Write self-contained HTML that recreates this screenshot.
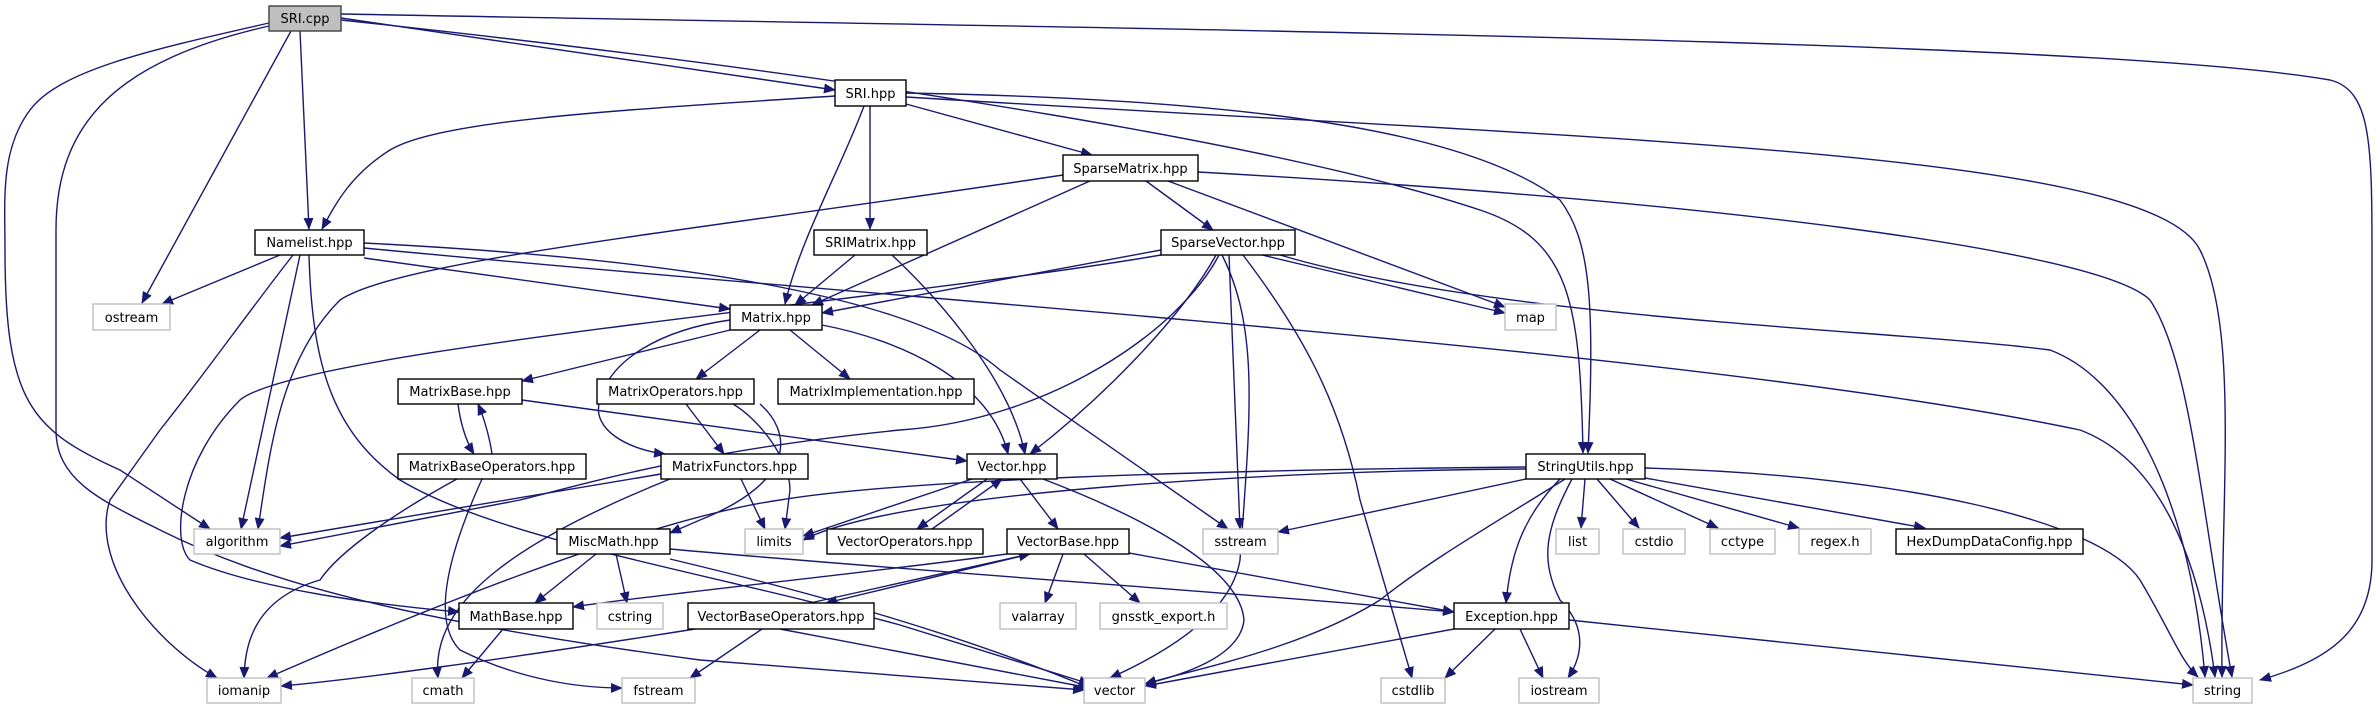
<!DOCTYPE html>
<html><head><meta charset="utf-8"><style>
html,body{margin:0;padding:0;background:#fff;}
svg{display:block;}
text{font-family:"DejaVu Sans","Liberation Sans",sans-serif;font-size:13px;fill:#000;text-anchor:middle;}
.e{fill:none;stroke:#191970;stroke-width:1.4;marker-end:url(#a);}
.n{fill:#fff;stroke:#000;stroke-width:1.4;}
.g{fill:#fff;stroke:#bfbfbf;stroke-width:1.4;}
</style></head><body>
<svg width="2376" height="709" viewBox="0 0 2376 709" xmlns="http://www.w3.org/2000/svg">
<defs><marker id="a" markerWidth="12" markerHeight="10" refX="11" refY="5" orient="auto" markerUnits="userSpaceOnUse"><path d="M0,0 L12,5 L0,10 z" fill="#191970"/></marker></defs>
<g>
<!-- SRI.cpp -->
<path class="e" d="M341,18 L835,90"/>
<path class="e" d="M300,31 L309,229"/>
<path class="e" d="M291,31 L142,303"/>
<path class="e" d="M269,23 C150,50 60,70 30,110 C0,150 5,200 5,250 C5,400 30,430 120,470 L210,529"/>
<path class="e" d="M269,26 C120,60 56,120 56,230 L56,430 C56,480 100,500 160,530 C260,580 400,620 700,660 L1084,690"/>
<path class="e" d="M341,14 C1200,30 2100,40 2330,80 C2370,90 2372,140 2372,250 L2372,560 C2372,630 2330,660 2260,680"/>
<path class="e" d="M341,20 C900,80 1300,150 1480,210 C1570,240 1580,300 1583,453"/>
<!-- SRI.hpp -->
<path class="e" d="M835,96 C620,110 440,120 390,150 C350,175 335,205 322,229"/>
<path class="e" d="M864,106 C840,170 800,240 785,304"/>
<path class="e" d="M870,106 L870,229"/>
<path class="e" d="M906,104 L1092,155"/>
<path class="e" d="M906,93 C1300,100 1480,140 1560,200 C1590,240 1595,300 1588,453"/>
<path class="e" d="M906,97 C1600,140 2150,150 2200,250 C2240,330 2220,500 2222,677"/>
<!-- Namelist.hpp -->
<path class="e" d="M280,255 L162,304"/>
<path class="e" d="M300,255 L241,529"/>
<path class="e" d="M293,255 C250,310 200,380 160,430 L110,500 C90,560 150,640 217,678"/>
<path class="e" d="M309,255 C312,360 330,430 400,480 C500,540 700,570 900,625 L1090,684"/>
<path class="e" d="M364,258 L730,309"/>
<path class="e" d="M364,243 C700,260 920,300 1000,370 L1228,529"/>
<path class="e" d="M364,248 C900,300 1700,350 2080,430 C2160,460 2200,560 2215,677"/>
<!-- Matrix.hpp -->
<path class="e" d="M730,330 L522,381"/>
<path class="e" d="M760,330 L696,379"/>
<path class="e" d="M790,330 L850,379"/>
<path class="e" d="M730,320 C660,330 610,360 600,400 C590,430 630,450 665,454"/>
<path class="e" d="M822,325 C900,340 990,380 1008,454"/>
<!-- SparseMatrix -->
<path class="e" d="M1090,181 L812,305"/>
<path class="e" d="M1063,175 C700,230 400,260 340,300 C280,360 270,450 258,529"/>
<path class="e" d="M1168,181 L1505,307"/>
<path class="e" d="M1146,181 L1213,230"/>
<path class="e" d="M1198,172 C1700,200 2100,250 2150,300 C2190,360 2200,500 2232,677"/>
<!-- SRIMatrix -->
<path class="e" d="M855,255 L795,305"/>
<path class="e" d="M892,255 C940,300 1010,380 1025,454"/>
<!-- SparseVector -->
<path class="e" d="M1161,250 L822,313"/>
<path class="e" d="M1161,255 C900,300 300,350 240,400 C180,460 170,540 190,560 C260,590 380,605 459,612"/>
<path class="e" d="M1216,255 C1180,320 1100,400 1030,454"/>
<path class="e" d="M1219,255 C1180,330 1050,420 900,430 C700,450 600,480 520,500 L280,546"/>
<path class="e" d="M1229,255 L1240,529"/>
<path class="e" d="M1222,255 C1260,330 1250,420 1240,560 C1230,620 1150,660 1110,678"/>
<path class="e" d="M1243,255 C1300,330 1340,400 1360,500 L1412,678"/>
<path class="e" d="M1262,255 L1505,313"/>
<path class="e" d="M1280,255 C1500,320 1900,330 2050,350 C2130,380 2190,500 2205,677"/>
<!-- MatrixBase / MatrixBaseOperators -->
<path class="e" d="M458,404 C460,420 465,440 474,454"/>
<path class="e" d="M492,454 C490,440 485,420 478,404"/>
<path class="e" d="M522,400 L967,461"/>
<path class="e" d="M457,479 C400,510 340,550 320,580 C250,600 245,650 244,678"/>
<path class="e" d="M482,479 C450,550 430,620 460,650 C520,680 580,688 622,688"/>
<!-- MatrixOperators -->
<path class="e" d="M686,404 L724,454"/>
<path class="e" d="M733,404 C760,420 790,460 790,490 L785,529"/>
<path class="e" d="M760,404 C790,430 800,480 700,520 L670,533"/>
<!-- MatrixFunctors -->
<path class="e" d="M661,474 L280,538"/>
<path class="e" d="M741,479 L765,529"/>
<path class="e" d="M670,479 C520,540 430,600 438,678"/>
<!-- MiscMath -->
<path class="e" d="M596,554 L535,603"/>
<path class="e" d="M616,554 L627,603"/>
<path class="e" d="M670,559 C800,590 950,630 1090,688"/>
<path class="e" d="M670,549 C900,570 1200,590 1454,612"/>
<!-- Vector -->
<path class="e" d="M972,479 L803,536"/>
<path class="e" d="M987,479 L917,529"/>
<path class="e" d="M932,529 L1002,479"/>
<path class="e" d="M1020,479 L1058,529"/>
<path class="e" d="M1043,479 C1150,520 1240,570 1244,620 C1240,660 1170,678 1145,684"/>
<!-- VectorBase -->
<path class="e" d="M1063,554 L1045,603"/>
<path class="e" d="M1084,554 L1140,603"/>
<path class="e" d="M1129,553 L1454,612"/>
<path class="e" d="M1007,554 C850,575 650,595 573,607"/>
<path class="e" d="M1030,554 L826,603"/>
<path class="e" d="M810,603 L1030,554"/>
<!-- VectorBaseOperators -->
<path class="e" d="M695,629 C500,660 350,680 281,686"/>
<path class="e" d="M762,629 L690,678"/>
<path class="e" d="M780,629 L1090,688"/>
<!-- MathBase -->
<path class="e" d="M503,629 L462,678"/>
<!-- Exception -->
<path class="e" d="M1454,629 L1145,686"/>
<path class="e" d="M1495,629 L1445,678"/>
<path class="e" d="M1520,629 L1543,678"/>
<path class="e" d="M1569,620 L2193,685"/>
<!-- StringUtils -->
<path class="e" d="M1526,469 C1300,470 900,490 803,540"/>
<path class="e" d="M1526,467 C1200,470 900,480 780,500 C640,520 400,620 267,678"/>
<path class="e" d="M1526,479 L1278,532"/>
<path class="e" d="M1565,479 C1500,520 1430,560 1380,600 C1300,650 1190,670 1145,684"/>
<path class="e" d="M1560,479 C1520,520 1510,560 1506,603"/>
<path class="e" d="M1572,479 C1545,530 1540,560 1560,600 C1590,630 1580,660 1568,678"/>
<path class="e" d="M1585,479 L1581,528"/>
<path class="e" d="M1597,479 L1639,528"/>
<path class="e" d="M1610,479 L1718,528"/>
<path class="e" d="M1626,479 L1799,528"/>
<path class="e" d="M1645,478 L1925,528"/>
<path class="e" d="M1645,468 C1900,475 2100,520 2140,580 C2170,630 2180,660 2198,677"/>
</g>
<g>
<rect x="269" y="6" width="72" height="25" fill="#bfbfbf" stroke="#404040" stroke-width="1.4"/><text x="305" y="23">SRI.cpp</text>
<rect class="n" x="835" y="80" width="71" height="26"/><text x="870.5" y="98">SRI.hpp</text>
<rect class="n" x="255" y="230" width="109" height="25"/><text x="309.5" y="247">Namelist.hpp</text>
<rect class="n" x="1063" y="155" width="135" height="26"/><text x="1130.5" y="173">SparseMatrix.hpp</text>
<rect class="n" x="814" y="230" width="113" height="25"/><text x="870.5" y="247">SRIMatrix.hpp</text>
<rect class="n" x="1161" y="230" width="134" height="25"/><text x="1228" y="247">SparseVector.hpp</text>
<rect class="g" x="93" y="304" width="77" height="26"/><text x="131.5" y="322">ostream</text>
<rect class="n" x="730" y="305" width="92" height="25"/><text x="776" y="322">Matrix.hpp</text>
<rect class="g" x="1505" y="304" width="51" height="26"/><text x="1530.5" y="322">map</text>
<rect class="n" x="398" y="379" width="124" height="25"/><text x="460" y="396">MatrixBase.hpp</text>
<rect class="n" x="597" y="379" width="157" height="25"/><text x="675.5" y="396">MatrixOperators.hpp</text>
<rect class="n" x="778" y="379" width="196" height="25"/><text x="876" y="396">MatrixImplementation.hpp</text>
<rect class="n" x="398" y="454" width="188" height="25"/><text x="492" y="471">MatrixBaseOperators.hpp</text>
<rect class="n" x="661" y="454" width="147" height="25"/><text x="734.5" y="471">MatrixFunctors.hpp</text>
<rect class="n" x="967" y="454" width="90" height="25"/><text x="1012" y="471">Vector.hpp</text>
<rect class="n" x="1526" y="454" width="119" height="25"/><text x="1585.5" y="471">StringUtils.hpp</text>
<rect class="g" x="194" y="529" width="86" height="25"/><text x="237" y="546">algorithm</text>
<rect class="n" x="557" y="529" width="113" height="25"/><text x="613.5" y="546">MiscMath.hpp</text>
<rect class="g" x="745" y="529" width="58" height="25"/><text x="774" y="546">limits</text>
<rect class="n" x="827" y="529" width="156" height="25"/><text x="905" y="546">VectorOperators.hpp</text>
<rect class="n" x="1007" y="529" width="122" height="25"/><text x="1068" y="546">VectorBase.hpp</text>
<rect class="g" x="1203" y="529" width="75" height="25"/><text x="1240.5" y="546">sstream</text>
<rect class="g" x="1556" y="529" width="43" height="25"/><text x="1577.5" y="546">list</text>
<rect class="g" x="1623" y="529" width="62" height="25"/><text x="1654" y="546">cstdio</text>
<rect class="g" x="1710" y="529" width="65" height="25"/><text x="1742.5" y="546">cctype</text>
<rect class="g" x="1799" y="529" width="72" height="25"/><text x="1835" y="546">regex.h</text>
<rect class="n" x="1896" y="529" width="187" height="25"/><text x="1989.5" y="546">HexDumpDataConfig.hpp</text>
<rect class="n" x="459" y="603" width="114" height="26"/><text x="516" y="621">MathBase.hpp</text>
<rect class="g" x="597" y="603" width="66" height="26"/><text x="630" y="621">cstring</text>
<rect class="n" x="688" y="603" width="186" height="26"/><text x="781" y="621">VectorBaseOperators.hpp</text>
<rect class="g" x="1000" y="603" width="76" height="26"/><text x="1038" y="621">valarray</text>
<rect class="g" x="1100" y="603" width="127" height="26"/><text x="1163.5" y="621">gnsstk_export.h</text>
<rect class="n" x="1454" y="603" width="115" height="26"/><text x="1511.5" y="621">Exception.hpp</text>
<rect class="g" x="207" y="678" width="74" height="25"/><text x="244" y="695">iomanip</text>
<rect class="g" x="412" y="678" width="62" height="25"/><text x="443" y="695">cmath</text>
<rect class="g" x="622" y="678" width="73" height="25"/><text x="658.5" y="695">fstream</text>
<rect class="g" x="1084" y="678" width="61" height="25"/><text x="1114.5" y="695">vector</text>
<rect class="g" x="1381" y="678" width="64" height="25"/><text x="1413" y="695">cstdlib</text>
<rect class="g" x="1519" y="678" width="80" height="25"/><text x="1559" y="695">iostream</text>
<rect class="g" x="2193" y="678" width="59" height="25"/><text x="2222.5" y="695">string</text>
</g>
</svg>
</body></html>
